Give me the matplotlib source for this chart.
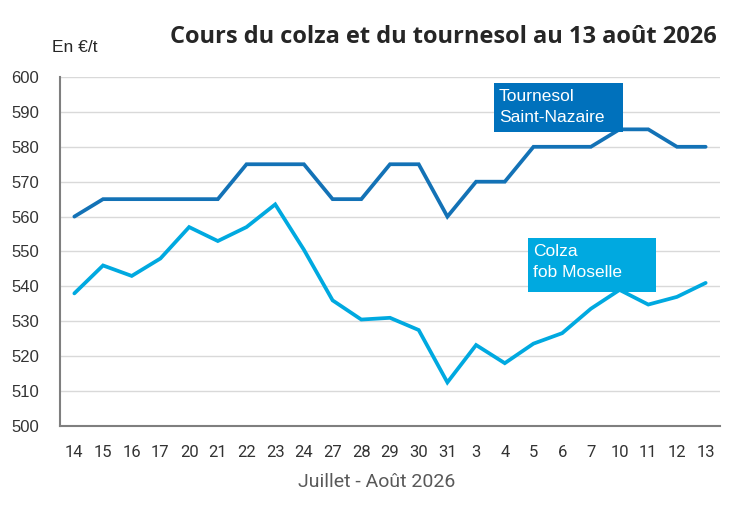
import matplotlib
matplotlib.use("Agg")
import matplotlib.pyplot as plt
from matplotlib.patches import Rectangle

dates = ["14", "15", "16", "17", "20", "21", "22", "23", "24", "27", "28", "29",
         "30", "31", "3", "4", "5", "6", "7", "10", "11", "12", "13"]
tournesol = [560, 565, 565, 565, 565, 565, 575, 575, 575, 565, 565, 575,
             575, 560, 570, 570, 580, 580, 580, 585, 585, 580, 580]
colza = [538, 546, 543, 548, 557, 553, 557, 563.5, 550.5, 536, 530.5, 531,
         527.5, 512.5, 523.2, 518, 523.6, 526.6, 533.6, 539, 534.8, 537, 541]
y_ticks = [500, 510, 520, 530, 540, 550, 560, 570, 580, 590, 600]

title = "Cours du colza et du tournesol au 13 août 2026"
unit = "En €/t"
xlabel = "Juillet - Août 2026"
label_t = "Tournesol\nSaint-Nazaire"
label_c = "Colza\nfob Moselle"

c_tour = "#1372B6"
c_colza = "#00A9E0"
box_tour = "#0071BC"
box_colza = "#00A9E0"

plt.rcParams['font.family'] = ['Liberation Sans', 'DejaVu Sans']

fig = plt.figure(figsize=(7.47, 5.13), dpi=100)
ax = fig.add_axes([60/747, 1-426/513, 660/747, 349/513])

x = list(range(len(dates)))
ax.plot(x, tournesol, color=c_tour, lw=2.7, solid_capstyle='round', solid_joinstyle='miter', zorder=3)
ax.plot(x, colza, color=c_colza, lw=2.7, solid_capstyle='round', solid_joinstyle='miter', zorder=3)

ax.set_xlim(-0.5, len(dates) - 0.5)
ax.set_ylim(500, 600)
ax.set_yticks(y_ticks)
ax.set_xticks(x)
ax.set_xticklabels(dates, family=['Roboto', 'DejaVu Sans'], fontsize=12)
ax.tick_params(axis='both', length=0, colors='#333333')
ax.tick_params(axis='y', labelsize=12, pad=15)
ax.tick_params(axis='x', pad=14)
ax.grid(axis='y', color='#D9D9D9', lw=1.0)
ax.set_axisbelow(True)
for s in ['top', 'right']:
    ax.spines[s].set_visible(False)
for s in ['left', 'bottom']:
    ax.spines[s].set_color('#7F7F7F')
    ax.spines[s].set_linewidth(1.5)

fig.text(377/747, 1-482/513, xlabel, ha='center', va='center', fontsize=14,
         color='#595959', family=['Roboto', 'DejaVu Sans'])

fig.text(717/747, 1-37/513, title, ha='right', va='center', fontsize=17,
         fontweight='bold', color='#262626', family=['Open Sans', 'DejaVu Sans'])
fig.text(52/747, 1-48/513, unit, ha='left', va='center', fontsize=12.5, color='#262626')

# label boxes
fig.patches.append(Rectangle((494/747, 1-132/513), 129/747, 49/513,
                             transform=fig.transFigure, facecolor=box_tour,
                             edgecolor='none', zorder=5))
fig.text(499/747, 1-107/513, label_t, ha='left', va='center', fontsize=12.5,
         color='white', linespacing=1.45, zorder=6)
fig.patches.append(Rectangle((528/747, 1-292/513), 128/747, 54/513,
                             transform=fig.transFigure, facecolor=box_colza,
                             edgecolor='none', zorder=5))
fig.text(533/747, 1-262/513, label_c, ha='left', va='center', fontsize=12.5,
         color='white', linespacing=1.45, zorder=6)

fig.savefig("out.png", dpi=100)
